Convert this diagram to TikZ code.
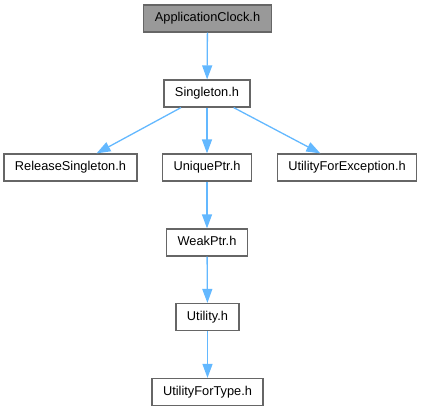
\documentclass[tikz,border=0pt]{standalone}
\usepackage{fontspec}
\setmainfont{Liberation Sans}
\usetikzlibrary{arrows.meta}

\definecolor{edgeblue}{HTML}{63B8FF}
\definecolor{boxgray}{HTML}{666666}
\definecolor{rootgray}{HTML}{999999}

\begin{document}
\begin{tikzpicture}[x=1pt,y=-1pt]
	\tikzset{file/.style={draw=boxgray, fill=white, line width=1.2pt, inner xsep=11pt, inner ysep=0pt,
			minimum height=27pt, text height=9.5pt, text depth=2.5pt, font=\fontsize{12.8}{15}\selectfont}}
	\tikzset{root/.style={file, fill=rootgray}}
	\tikzset{dep/.style={draw=edgeblue, line width=1.3pt, -{Triangle[length=14pt,width=10pt]}}}

	\useasboundingbox (0,0) rectangle (425,411);

	    \node[root] (clock) at (207.5,18.5) {ApplicationClock.h};
	    \node[file] (singleton) at (207,93.5) {Singleton.h};
	    \node[file] (release) at (70.5,167.5) {ReleaseSingleton.h};
	    \node[file] (unique) at (207,167.5) {UniquePtr.h};
	    \node[file] (exception) at (347,167.5) {UtilityForException.h};
	    \node[file] (weak) at (207,242.5) {WeakPtr.h};
	    \node[file] (utility) at (207.5,317) {Utility.h};
	    \node[file] (type) at (207.5,392) {UtilityForType.h};

	    \draw[dep] (clock) -- (singleton);
	    \draw[dep] (singleton) -- (release);
	    \draw[dep] (singleton) -- (unique);
	    \draw[dep] (singleton) -- (exception);
	    \draw[dep] (unique) -- (weak);
	    \draw[dep] (weak) -- (utility);
	    \draw[dep] (utility) -- (type);

\end{tikzpicture}
\end{document}
